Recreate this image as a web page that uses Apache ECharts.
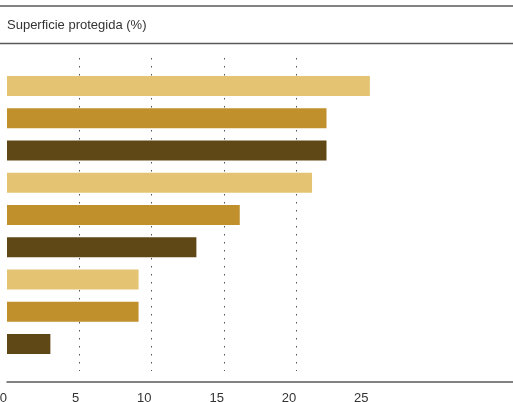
<!DOCTYPE html>
<html>
<head>
<meta charset="utf-8">
<script src="https://cdn.jsdelivr.net/npm/echarts@6/dist/echarts.min.js"></script>
<style>
  html, body { margin: 0; padding: 0; background: #fff; }
  #chart { width: 513px; height: 402px; }
</style>
</head>
<body>
<div id="chart"></div>
<script>
// ---- data ----
const title = 'Superficie protegida (%)';
const categories = ['1', '2', '3', '4', '5', '6', '7', '8', '9'];
const values = [25.1, 22.1, 22.1, 21.1, 16.1, 13.1, 9.1, 9.1, 3.0];
const tickValues = [0, 5, 10, 15, 20, 25];
const gridValues = [5, 10, 15, 20];
const axisMax = 35;
const axisStep = 5;

// ---- style ----
const palette = ['#E4C372', '#C0902D', '#604816'];
const ruleColor = '#5a5a5a';
const gridColor = '#555555';
const textColor = '#333333';
const fontFamily = '"Liberation Sans", Arial, Helvetica, sans-serif';

const chart = echarts.init(document.getElementById('chart'), null, { renderer: 'canvas' });

// split line colours per tick (0..axisMax): visible only on gridValues
const splitColors = [];
for (let v = 0; v <= axisMax; v += axisStep) {
  splitColors.push(gridValues.indexOf(v) >= 0 ? gridColor : 'rgba(0,0,0,0)');
}

const option = {
  backgroundColor: '#ffffff',
  animation: false,
  title: {
    text: title,
    left: 7,
    top: 19,
    padding: 0,
    textStyle: { fontFamily, fontSize: 13, fontWeight: 'normal', color: textColor }
  },
  graphic: [
    { type: 'line', shape: { x1: 0, y1: 6, x2: 513, y2: 6 }, style: { stroke: ruleColor, lineWidth: 1.5 } },
    { type: 'line', shape: { x1: 0, y1: 43.5, x2: 513, y2: 43.5 }, style: { stroke: ruleColor, lineWidth: 1.5 } }
  ],
  grid: [
    { left: 7, right: 0, top: 58, bottom: 31, containLabel: false, outerBoundsMode: 'none' },
    { left: 7, right: 0, top: 70, bottom: 42, containLabel: false, outerBoundsMode: 'none' }
  ],
  xAxis: [
    {
      gridIndex: 0, type: 'value', min: 0, max: axisMax, interval: axisStep,
      axisLine: { show: false }, axisTick: { show: false }, axisLabel: { show: false },
      splitLine: {
        show: true, showMinLine: true, showMaxLine: true,
        lineStyle: { color: splitColors, width: 1, type: [1.5, 6.5] }
      }
    },
    {
      gridIndex: 1, type: 'value', min: 0, max: axisMax, interval: axisStep,
      offset: 22,
      axisLine: { show: true, lineStyle: { color: ruleColor, width: 1.5 } },
      axisTick: { show: false },
      splitLine: { show: false },
      axisLabel: {
        show: true, align: 'right', margin: 10,
        color: textColor, fontFamily, fontSize: 13,
        formatter: function (v) { return tickValues.indexOf(v) >= 0 ? String(v) : ''; }
      }
    }
  ],
  yAxis: [
    { gridIndex: 0, type: 'value', show: false },
    {
      gridIndex: 1, type: 'category', data: categories, inverse: true,
      axisLine: { show: false }, axisTick: { show: false }, axisLabel: { show: false },
      splitLine: { show: false }
    }
  ],
  series: [
    {
      type: 'bar',
      xAxisIndex: 1, yAxisIndex: 1,
      barWidth: 20,
      data: values.map((v, i) => ({ value: v, itemStyle: { color: palette[i % palette.length] } }))
    }
  ]
};
chart.setOption(option);
</script>
</body>
</html>
